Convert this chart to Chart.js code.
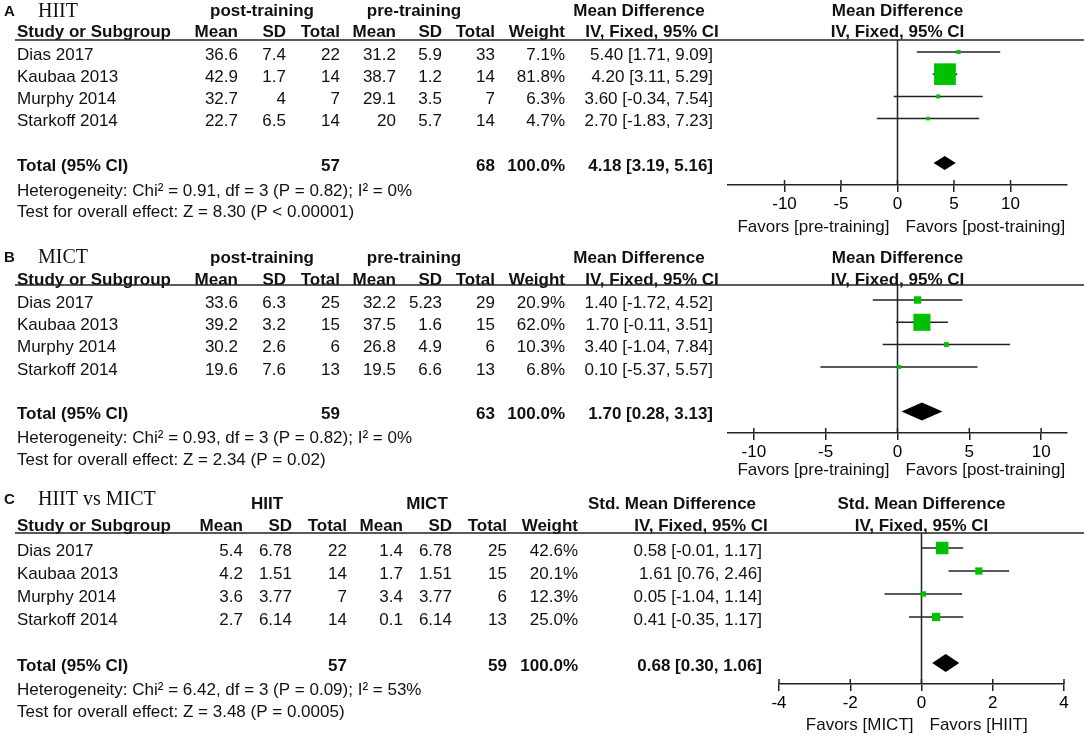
<!DOCTYPE html>
<html lang="en">
<head>
<meta charset="UTF-8">
<title>Forest plots: HIIT, MICT, HIIT vs MICT</title>
<script src="https://cdn.jsdelivr.net/npm/chart.js"></script>
<style>
  html, body { margin: 0; padding: 0; background: #fff; }
  #wrap { position: relative; width: 1084px; height: 736px; }
  .panel { position: absolute; left: 0; width: 1084px; }
</style>
</head>
<body>
<div id="wrap">
  <div class="panel" style="top:0;height:240px"><canvas id="chartA"></canvas></div>
  <div class="panel" style="top:240px;height:240px"><canvas id="chartB"></canvas></div>
  <div class="panel" style="top:480px;height:256px"><canvas id="chartC"></canvas></div>
</div>

<script>
// ---- data ----
const studies = ['Dias 2017', 'Kaubaa 2013', 'Murphy 2014', 'Starkoff 2014'];

// A: HIIT, post- vs pre-training
const hiitPostMean = [36.6, 42.9, 32.7, 22.7];
const hiitPostSD   = [7.4, 1.7, 4, 6.5];
const hiitPostN    = [22, 14, 7, 14];
const hiitPreMean  = [31.2, 38.7, 29.1, 20];
const hiitPreSD    = [5.9, 1.2, 3.5, 5.7];
const hiitPreN     = [33, 14, 7, 14];
const hiitWeight   = [7.1, 81.8, 6.3, 4.7];
const hiitMD       = [5.40, 4.20, 3.60, 2.70];
const hiitLow      = [1.71, 3.11, -0.34, -1.83];
const hiitHigh     = [9.09, 5.29, 7.54, 7.23];
const hiitTotal    = [4.18, 3.19, 5.16];   // estimate, low, high
const hiitTotalN   = [57, 68];
const hiitHet  = 'Heterogeneity: Chi² = 0.91, df = 3 (P = 0.82); I² = 0%';
const hiitTest = 'Test for overall effect: Z = 8.30 (P < 0.00001)';

// B: MICT, post- vs pre-training
const mictPostMean = [33.6, 39.2, 30.2, 19.6];
const mictPostSD   = [6.3, 3.2, 2.6, 7.6];
const mictPostN    = [25, 15, 6, 13];
const mictPreMean  = [32.2, 37.5, 26.8, 19.5];
const mictPreSD    = [5.23, 1.6, 4.9, 6.6];
const mictPreN     = [29, 15, 6, 13];
const mictWeight   = [20.9, 62.0, 10.3, 6.8];
const mictMD       = [1.40, 1.70, 3.40, 0.10];
const mictLow      = [-1.72, -0.11, -1.04, -5.37];
const mictHigh     = [4.52, 3.51, 7.84, 5.57];
const mictTotal    = [1.70, 0.28, 3.13];
const mictTotalN   = [59, 63];
const mictHet  = 'Heterogeneity: Chi² = 0.93, df = 3 (P = 0.82); I² = 0%';
const mictTest = 'Test for overall effect: Z = 2.34 (P = 0.02)';

// C: HIIT vs MICT
const cmpHiitMean = [5.4, 4.2, 3.6, 2.7];
const cmpHiitSD   = [6.78, 1.51, 3.77, 6.14];
const cmpHiitN    = [22, 14, 7, 14];
const cmpMictMean = [1.4, 1.7, 3.4, 0.1];
const cmpMictSD   = [6.78, 1.51, 3.77, 6.14];
const cmpMictN    = [25, 15, 6, 13];
const cmpWeight   = [42.6, 20.1, 12.3, 25.0];
const cmpSMD      = [0.58, 1.61, 0.05, 0.41];
const cmpLow      = [-0.01, 0.76, -1.04, -0.35];
const cmpHigh     = [1.17, 2.46, 1.14, 1.17];
const cmpTotal    = [0.68, 0.30, 1.06];
const cmpTotalN   = [57, 59];
const cmpHet  = 'Heterogeneity: Chi² = 6.42, df = 3 (P = 0.09); I² = 53%';
const cmpTest = 'Test for overall effect: Z = 3.48 (P = 0.0005)';

// axis ticks
const mdTicks  = [-10, -5, 0, 5, 10];
const smdTicks = [-4, -2, 0, 2, 4];

// ---- styling ----
const FAMILY = '"Liberation Sans", Arial, sans-serif';
const REG    = '17px ' + FAMILY;
const BOLD   = 'bold 17px ' + FAMILY;
const LETTER = 'bold 15px ' + FAMILY;
const SERIF  = '20px "Liberation Serif", "Times New Roman", serif';
const INK    = '#111';
const LINE   = '#222';
const GREEN  = '#00c000';

// column right edges: exp mean, sd, n, ctl mean, sd, n, weight, CI
const colsAB = [238, 286, 340, 396, 442, 495, 565, 713];
const colsC  = [243, 292, 347, 403, 452, 507, 578, 762];

const panels = [
  {
    id: 'chartA', letter: 'A', title: 'HIIT',
    groups: ['post-training', 'pre-training'], effect: 'Mean Difference',
    cols: [hiitPostMean, hiitPostSD, hiitPostN, hiitPreMean, hiitPreSD, hiitPreN],
    weight: hiitWeight, est: hiitMD, lo: hiitLow, hi: hiitHigh,
    total: hiitTotal, totalN: hiitTotalN, het: hiitHet, test: hiitTest,
    ticks: mdTicks, xMin: -15, xMax: 15,
    favors: ['Favors [pre-training]', 'Favors [post-training]'],
    L: { h: 240, colX: colsAB, groupX: [262, 414], eff1X: 639, eff2X: 652,
         titleY: 12, head1Y: 11, head2Y: 32, lineY: 40, row0: 52, step: 22.2,
         hetY: 191, testY: 212, axisY: 185, favorsY: 227,
         plotL: 728, plotR: 1067, dh: 7 }
  },
  {
    id: 'chartB', letter: 'B', title: 'MICT',
    groups: ['post-training', 'pre-training'], effect: 'Mean Difference',
    cols: [mictPostMean, mictPostSD, mictPostN, mictPreMean, mictPreSD, mictPreN],
    weight: mictWeight, est: mictMD, lo: mictLow, hi: mictHigh,
    total: mictTotal, totalN: mictTotalN, het: mictHet, test: mictTest,
    ticks: mdTicks, xMin: -11.8, xMax: 11.8,
    favors: ['Favors [pre-training]', 'Favors [post-training]'],
    L: { h: 240, colX: colsAB, groupX: [262, 414], eff1X: 639, eff2X: 652,
         titleY: 18, head1Y: 18, head2Y: 40, lineY: 45, row0: 60, step: 22.3,
         hetY: 198, testY: 220, axisY: 193, favorsY: 230,
         plotL: 728, plotR: 1067, dh: 9 }
  },
  {
    id: 'chartC', letter: 'C', title: 'HIIT vs MICT',
    groups: ['HIIT', 'MICT'], effect: 'Std. Mean Difference',
    cols: [cmpHiitMean, cmpHiitSD, cmpHiitN, cmpMictMean, cmpMictSD, cmpMictN],
    weight: cmpWeight, est: cmpSMD, lo: cmpLow, hi: cmpHigh,
    total: cmpTotal, totalN: cmpTotalN, het: cmpHet, test: cmpTest,
    ticks: smdTicks, xMin: -4, xMax: 4,
    favors: ['Favors [MICT]', 'Favors [HIIT]'],
    L: { h: 256, colX: colsC, groupX: [267, 427], eff1X: 672, eff2X: 701,
         titleY: 20, head1Y: 24, head2Y: 46, lineY: 53, row0: 68, step: 23,
         hetY: 210, testY: 232, axisY: 204, favorsY: 245,
         plotL: 779, plotR: 1064, dh: 9 }
  }
];

function text(ctx, s, x, y, align, font) {
  ctx.font = font;
  ctx.textAlign = align;
  ctx.fillText(String(s), x, y);
}

function ciLabel(e, l, h) {
  return e.toFixed(2) + ' [' + l.toFixed(2) + ', ' + h.toFixed(2) + ']';
}

// draws the table on the left, headers, diamond and favors labels
function tablePlugin(p) {
  const L = p.L;
  return {
    id: 'forestTable',
    afterDatasetsDraw(chart) {
      const ctx = chart.ctx;
      const xs = chart.scales.x, ys = chart.scales.y;
      const ty = ys.getPixelForValue(5);
      ctx.save();
      ctx.fillStyle = '#000';
      ctx.beginPath();
      ctx.moveTo(xs.getPixelForValue(p.total[1]), ty);
      ctx.lineTo(xs.getPixelForValue(p.total[0]), ty - L.dh);
      ctx.lineTo(xs.getPixelForValue(p.total[2]), ty);
      ctx.lineTo(xs.getPixelForValue(p.total[0]), ty + L.dh);
      ctx.closePath();
      ctx.fill();
      ctx.restore();
    },
    afterDraw(chart) {
      const ctx = chart.ctx;
      const ys = chart.scales.y, xs = chart.scales.x;
      const c = L.colX;
      const mid = (chart.chartArea.left + chart.chartArea.right) / 2;
      ctx.save();
      ctx.fillStyle = INK;
      ctx.textBaseline = 'middle';

      // title
      text(ctx, p.letter, 4, L.titleY, 'left', LETTER);
      text(ctx, p.title, 38, L.titleY, 'left', SERIF);

      // header rows
      text(ctx, p.groups[0], L.groupX[0], L.head1Y, 'center', BOLD);
      text(ctx, p.groups[1], L.groupX[1], L.head1Y, 'center', BOLD);
      text(ctx, p.effect, L.eff1X, L.head1Y, 'center', BOLD);
      text(ctx, p.effect, mid, L.head1Y, 'center', BOLD);
      text(ctx, 'Study or Subgroup', 17, L.head2Y, 'left', BOLD);
      ['Mean', 'SD', 'Total', 'Mean', 'SD', 'Total', 'Weight'].forEach((h, i) => {
        text(ctx, h, c[i], L.head2Y, 'right', BOLD);
      });
      text(ctx, 'IV, Fixed, 95% CI', L.eff2X, L.head2Y, 'center', BOLD);
      text(ctx, 'IV, Fixed, 95% CI', mid, L.head2Y, 'center', BOLD);

      ctx.strokeStyle = LINE;
      ctx.lineWidth = 1.5;
      ctx.beginPath();
      ctx.moveTo(15, L.lineY);
      ctx.lineTo(1084, L.lineY);
      ctx.stroke();

      // tick marks also poke a little above the axis line
      const axisY = chart.chartArea.bottom;
      ctx.beginPath();
      p.ticks.forEach(v => {
        const x = xs.getPixelForValue(v);
        ctx.moveTo(x, axisY - 5);
        ctx.lineTo(x, axisY);
      });
      ctx.stroke();

      // study rows
      studies.forEach((s, i) => {
        const y = ys.getPixelForValue(i) + 3;
        text(ctx, s, 17, y, 'left', REG);
        p.cols.forEach((col, j) => text(ctx, col[i], c[j], y, 'right', REG));
        text(ctx, p.weight[i].toFixed(1) + '%', c[6], y, 'right', REG);
        text(ctx, ciLabel(p.est[i], p.lo[i], p.hi[i]), c[7], y, 'right', REG);
      });

      // total row
      const ty = ys.getPixelForValue(5) + 3;
      text(ctx, 'Total (95% CI)', 17, ty, 'left', BOLD);
      text(ctx, p.totalN[0], c[2], ty, 'right', BOLD);
      text(ctx, p.totalN[1], c[5], ty, 'right', BOLD);
      text(ctx, '100.0%', c[6], ty, 'right', BOLD);
      text(ctx, ciLabel(p.total[0], p.total[1], p.total[2]), c[7], ty, 'right', BOLD);

      text(ctx, p.het, 17, L.hetY, 'left', REG);
      text(ctx, p.test, 17, L.testY, 'left', REG);

      // favors labels under the axis
      const zero = xs.getPixelForValue(0);
      text(ctx, p.favors[0], zero - 8, L.favorsY, 'right', REG);
      text(ctx, p.favors[1], zero + 8, L.favorsY, 'left', REG);
      ctx.restore();
    }
  };
}

function drawPanel(p) {
  const L = p.L;
  const yMin = (L.lineY - L.row0) / L.step;
  const yMax = (L.axisY - L.row0) / L.step;

  const datasets = [];
  // study boxes, size grows with weight
  datasets.push({
    data: p.est.map((v, i) => ({ x: v, y: i })),
    pointStyle: 'rect',
    pointRadius: p.weight.map(w => (2.5 + 0.235 * w) / Math.SQRT2),
    backgroundColor: GREEN,
    borderWidth: 0
  });
  // confidence interval whiskers
  p.est.forEach((v, i) => {
    datasets.push({
      data: [{ x: p.lo[i], y: i }, { x: p.hi[i], y: i }],
      showLine: true, pointRadius: 0, borderColor: LINE, borderWidth: 1.5
    });
  });
  // line of no effect
  datasets.push({
    data: [{ x: 0, y: yMin }, { x: 0, y: yMax }],
    showLine: true, pointRadius: 0, borderColor: LINE, borderWidth: 1.5
  });

  new Chart(document.getElementById(p.id), {
    type: 'scatter',
    data: { datasets: datasets },
    options: {
      responsive: true,
      maintainAspectRatio: false,
      animation: false,
      layout: {
        padding: { left: L.plotL, right: 1084 - L.plotR, top: L.lineY, bottom: L.h - L.axisY - 30 }
      },
      plugins: { legend: { display: false }, tooltip: { enabled: false } },
      scales: {
        x: {
          type: 'linear', min: p.xMin, max: p.xMax,
          afterBuildTicks: s => { s.ticks = p.ticks.map(v => ({ value: v })); },
          afterFit: s => { s.height = 30; },
          border: { display: true, color: LINE, width: 1.5 },
          grid: { drawOnChartArea: false, drawTicks: true, tickLength: 7, color: LINE, lineWidth: 1.5 },
          ticks: { color: '#000', font: { family: FAMILY, size: 17 }, padding: 2, maxRotation: 0, autoSkip: false }
        },
        y: { type: 'linear', display: false, reverse: true, min: yMin, max: yMax }
      }
    },
    plugins: [tablePlugin(p)]
  });
}

panels.forEach(drawPanel);
</script>
</body>
</html>
